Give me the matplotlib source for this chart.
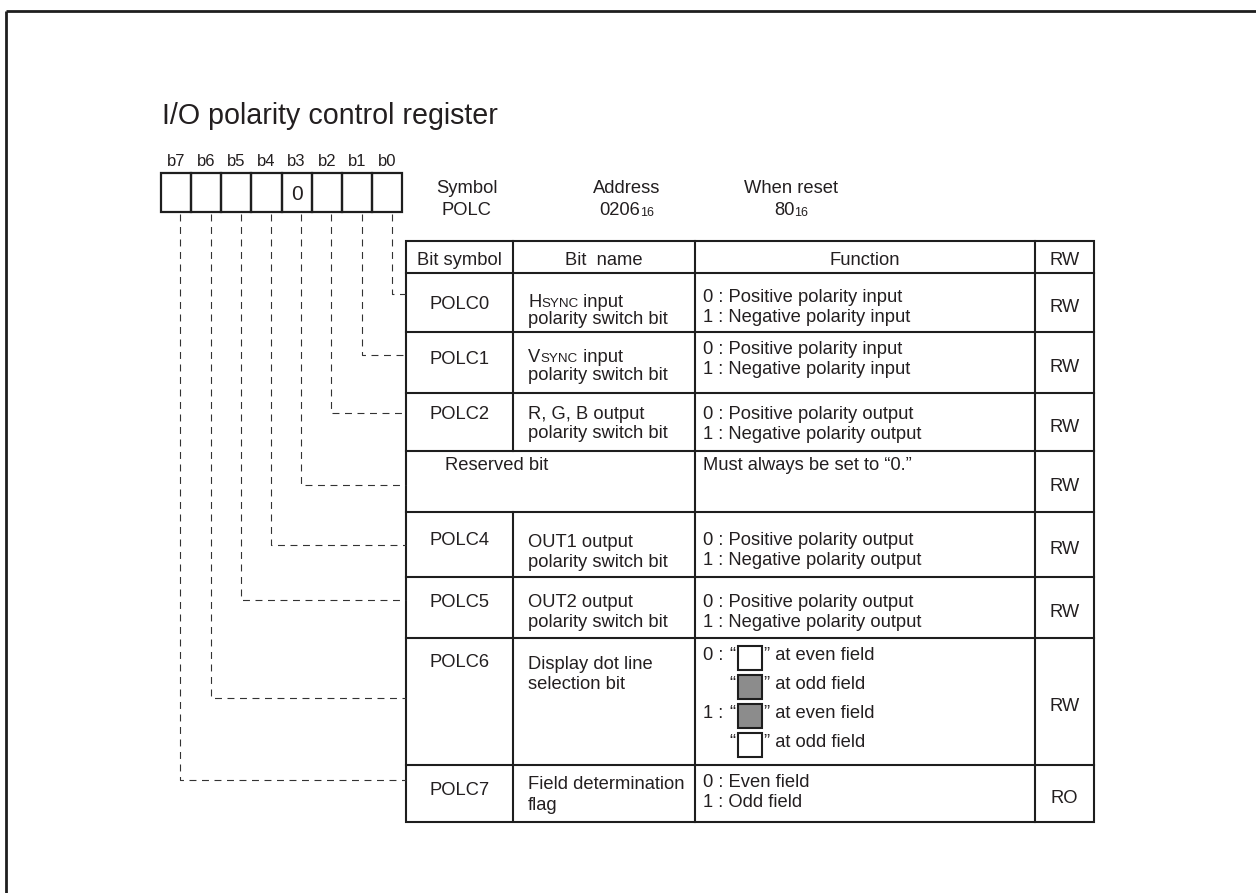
import matplotlib
matplotlib.use("Agg")
import matplotlib.pyplot as plt
from matplotlib.patches import Rectangle

plt.rcParams["font.family"] = ["Liberation Sans", "DejaVu Sans"]
plt.rcParams["lines.scale_dashes"] = False

# ---- content -------------------------------------------------------------
TITLE = "I/O polarity control register"
BIT_LABELS = ["b7", "b6", "b5", "b4", "b3", "b2", "b1", "b0"]
BIT_VALUES = ["", "", "", "", "0", "", "", ""]
SYMBOL = "POLC"
ADDRESS = ("0206", "16")
RESET_VALUE = ("80", "16")
HEADERS = ["Bit symbol", "Bit  name", "Function", "RW"]

bit_symbols = ["POLC0", "POLC1", "POLC2", "Reserved bit",
               "POLC4", "POLC5", "POLC6", "POLC7"]
bit_names = [
    ["HSYNC input", "polarity switch bit"],
    ["VSYNC input", "polarity switch bit"],
    ["R, G, B output", "polarity switch bit"],
    [],
    ["OUT1 output", "polarity switch bit"],
    ["OUT2 output", "polarity switch bit"],
    ["Display dot line", "selection bit"],
    ["Field determination", "flag"],
]
functions = [
    ["0 : Positive polarity input", "1 : Negative polarity input"],
    ["0 : Positive polarity input", "1 : Negative polarity input"],
    ["0 : Positive polarity output", "1 : Negative polarity output"],
    ["Must always be set to \u201c0.\u201d"],
    ["0 : Positive polarity output", "1 : Negative polarity output"],
    ["0 : Positive polarity output", "1 : Negative polarity output"],
    None,
    ["0 : Even field", "1 : Odd field"],
]
# POLC6 function lines: (prefix, dot colour, suffix)
dot_lines = [
    ("0 : ", "white", "\u201d at even field"),
    ("", "gray", "\u201d at odd field"),
    ("1 : ", "gray", "\u201d at even field"),
    ("", "white", "\u201d at odd field"),
]
access = ["RW", "RW", "RW", "RW", "RW", "RW", "RW", "RO"]

# ---- layout (pixels, y down) --------------------------------------------
W, H = 1256, 893
TXT = "#231f20"
LINE = "#1e1e1e"
FS = 13.2
SC_FS = 9.6
SUB_FS = 9.0

BOX_X0, BOX_W, BOX_Y0, BOX_Y1 = 160.7, 30.2, 173, 212
COLS = [406, 513, 695, 1035, 1094]
ROWS = [241, 273, 332, 393, 451, 512, 577, 638, 765, 822]
CONNECT_Y = [294, 355, 413, 485, 545, 600, 698, 780]
SYM_OFF = [29, 25, 19, 12, 26, 23, 22, 23]
NAME_OFF = [27, 23, 19, 0, 28, 23, 24, 17]
NAME_GAP = [17, 18, 19, 0, 20.5, 20.5, 20, 21]
FUNC_OFF = [22, 15, 19, 12, 26, 23, 15, 15]
LINE_GAP = 20.5

fig = plt.figure(figsize=(W / 100, H / 100), dpi=100)
ax = fig.add_axes([0, 0, 1, 1])
ax.set_xlim(0, W)
ax.set_ylim(H, 0)
ax.axis("off")
renderer = fig.canvas.get_renderer()


def cap_base(y, size=FS):
    # visual centre of capitals -> baseline
    return y + size * 100 / 72 * 0.716 / 2


def runs_text(x, y, runs, ha="left"):
    """draw consecutive text runs [(text, size, dy)] on one baseline"""
    widths = []
    for s, size, dy in runs:
        t = ax.text(0, 0, s, fontsize=size)
        widths.append(t.get_window_extent(renderer).width)
        t.remove()
    total = sum(widths)
    cx = x - total / 2 if ha == "center" else x
    for (s, size, dy), w in zip(runs, widths):
        ax.text(cx, y + dy, s, fontsize=size, color=TXT, va="baseline", ha="left")
        cx += w


def name_runs(line):
    if line[1:5] == "SYNC":
        return [(line[0], FS, 0), (line[1:5], SC_FS, 0), (line[5:], FS, 0)]
    return [(line, FS, 0)]


# outer frame
ax.plot([6, W], [11, 11], color=LINE, lw=2.0, solid_capstyle="butt")
ax.plot([6, 6], [11, H], color=LINE, lw=2.0, solid_capstyle="butt")

ax.text(162, cap_base(114, 20.6), TITLE, fontsize=20.6, color=TXT, va="baseline")

# bit boxes
for k, (lab, val) in enumerate(zip(BIT_LABELS, BIT_VALUES)):
    x0 = BOX_X0 + k * BOX_W
    ax.add_patch(Rectangle((x0, BOX_Y0), BOX_W, BOX_Y1 - BOX_Y0, fill=False,
                           edgecolor=LINE, lw=1.6))
    ax.text(x0 + BOX_W / 2, cap_base(160, 12), lab, fontsize=12, color=TXT,
            ha="center", va="baseline")
    if val:
        ax.text(x0 + BOX_W / 2, cap_base(193, 15), val, fontsize=15, color=TXT,
                ha="center", va="baseline")

# symbol / address / reset header
runs_text(466.7, cap_base(186.7), [("Symbol", FS, 0)], ha="center")
runs_text(466.7, cap_base(208.3), [(SYMBOL, FS, 0)], ha="center")
runs_text(626.7, cap_base(186.7), [("Address", FS, 0)], ha="center")
runs_text(626.7, cap_base(208.3), [(ADDRESS[0], FS, 0), (ADDRESS[1], SUB_FS, 1.5)], ha="center")
runs_text(791, cap_base(186.7), [("When reset", FS, 0)], ha="center")
runs_text(791, cap_base(208.3), [(RESET_VALUE[0], FS, 0), (RESET_VALUE[1], SUB_FS, 1.5)], ha="center")

# dashed leader lines
for i, cy in enumerate(CONNECT_Y):
    k = 7 - i
    lx = BOX_X0 + k * BOX_W + BOX_W * 0.65
    ax.plot([lx, lx, COLS[0]], [BOX_Y1 + 2, cy, cy], color="#333333", lw=0.8,
            linestyle=(0, (5, 4)))

# table grid
ax.add_patch(Rectangle((COLS[0], ROWS[0]), COLS[-1] - COLS[0], ROWS[-1] - ROWS[0],
                       fill=False, edgecolor=LINE, lw=1.5))
for y in ROWS[1:-1]:
    ax.plot([COLS[0], COLS[-1]], [y, y], color=LINE, lw=1.5)
for c in COLS[2:4]:
    ax.plot([c, c], [ROWS[0], ROWS[-1]], color=LINE, lw=1.5)
reserved = bit_symbols.index("Reserved bit")
ax.plot([COLS[1], COLS[1]], [ROWS[0], ROWS[reserved + 1]], color=LINE, lw=1.5)
ax.plot([COLS[1], COLS[1]], [ROWS[reserved + 2], ROWS[-1] - 2], color=LINE, lw=1.5)

# header row
for j, h in enumerate(HEADERS):
    cx = (COLS[j] + COLS[j + 1]) / 2
    ax.text(cx, cap_base(258), h, fontsize=FS, color=TXT, ha="center", va="baseline")

# body rows
for i in range(len(bit_symbols)):
    top, bot = ROWS[i + 1], ROWS[i + 2]
    sym_y = cap_base(top + SYM_OFF[i])
    if i == reserved:
        ax.text(445, sym_y, bit_symbols[i], fontsize=FS, color=TXT, va="baseline")
    else:
        ax.text((COLS[0] + COLS[1]) / 2, sym_y, bit_symbols[i], fontsize=FS,
                color=TXT, ha="center", va="baseline")
    for n, line in enumerate(bit_names[i]):
        runs_text(COLS[1] + 15, cap_base(top + NAME_OFF[i] + n * NAME_GAP[i]), name_runs(line))
    if functions[i] is not None:
        for n, line in enumerate(functions[i]):
            ax.text(COLS[2] + 8, cap_base(top + FUNC_OFF[i] + n * LINE_GAP), line,
                    fontsize=FS, color=TXT, va="baseline")
    else:
        for n, (pre, col, suf) in enumerate(dot_lines):
            ly = top + FUNC_OFF[i] + n * 29
            bx = 738
            if pre:
                ax.text(COLS[2] + 8, cap_base(ly), pre, fontsize=FS, color=TXT, va="baseline")
            ax.text(bx - 3, cap_base(ly), "\u201c", fontsize=FS, color=TXT,
                    ha="right", va="baseline")
            ax.add_patch(Rectangle((bx, ly - 7), 24, 24,
                                   facecolor="#8c8c8c" if col == "gray" else "white",
                                   edgecolor=LINE, lw=1.5))
            ax.text(bx + 26, cap_base(ly), suf, fontsize=FS, color=TXT, va="baseline")
    ax.text((COLS[3] + COLS[4]) / 2, cap_base((top + bot) / 2 + 3), access[i],
            fontsize=FS, color=TXT, ha="center", va="baseline")

fig.savefig("out.png", dpi=100)
